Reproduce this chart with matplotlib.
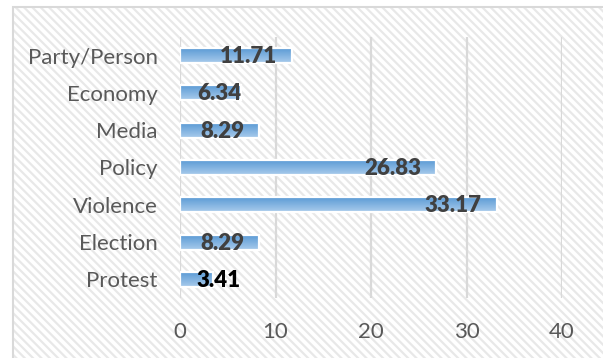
import numpy as np
import matplotlib
matplotlib.use("Agg")
import matplotlib.pyplot as plt
from matplotlib.colors import LinearSegmentedColormap
from matplotlib.patches import Rectangle

# données (de bas en haut)
categories = ['Protest', 'Election', 'Violence', 'Policy', 'Media', 'Economy', 'Party/Person']
valeurs = [3.41, 8.29, 33.17, 26.83, 8.29, 6.34, 11.71]
couleurs_labels = ['#000000', '#404040', '#404040', '#404040', '#404040', '#404040', '#404040']
xticks = [0, 10, 20, 30, 40]

plt.rcParams['font.family'] = ['Lato', 'DejaVu Sans']
plt.rcParams['hatch.linewidth'] = 1.6

fig = plt.figure(figsize=(6.03, 3.58), dpi=100)

# fond hachuré + cadre
fond = Rectangle((13 / 603, -0.05), 1.1, 1 - 7.5 / 358 + 0.05, transform=fig.transFigure,
                 facecolor='white', edgecolor='#e8e8e8', hatch='\\\\\\\\', linewidth=0, zorder=-2)
fig.patches.append(fond)
cadre = Rectangle((12.5 / 603, -0.05), 1.1, 1 - 7 / 358 + 0.05, transform=fig.transFigure,
                  facecolor='none', edgecolor='#d9d9d9', linewidth=1.5, zorder=-1)
fig.patches.append(cadre)

ax = fig.add_axes([180 / 603, 1 - 298 / 358, (562 - 180) / 603, (298 - 37) / 358])
ax.set_facecolor('none')

y = np.arange(len(categories))
barres = ax.barh(y, valeurs, height=0.40, color='#5b9bd5', edgecolor='none', zorder=2)

# dégradé bleu dans chaque barre
cmap = LinearSegmentedColormap.from_list('bleu', ['#a9cbec', '#5b9bd5'])
grad = np.linspace(0, 1, 64).reshape(-1, 1)
for b in barres:
    x0, y0 = b.get_x(), b.get_y()
    im = ax.imshow(grad, extent=[x0, x0 + b.get_width(), y0, y0 + b.get_height()],
                   origin='lower', aspect='auto', cmap=cmap, zorder=2.5)
    im.set_clip_path(b)
ax.barh(y, valeurs, height=0.40, color='none', edgecolor='white', linewidth=1.6, zorder=3)

ax.set_xlim(0, 40)
ax.set_ylim(-0.5, len(categories) - 0.5)
ax.set_xticks(xticks)
ax.set_yticks(y)
ax.set_yticklabels(categories)
ax.tick_params(axis='both', length=0, labelsize=16, labelcolor='#595959')
ax.tick_params(axis='x', pad=17)
ax.tick_params(axis='y', pad=16)
for s in ax.spines.values():
    s.set_visible(False)
ax.grid(axis='x', color='#d9d9d9', linewidth=1.6)
ax.set_axisbelow(True)

# étiquettes de valeurs
fig.canvas.draw()
rend = fig.canvas.get_renderer()
x_min_px = ax.transData.transform((0, 0))[0] + 17
for yi, v, c in zip(y, valeurs, couleurs_labels):
    t = ax.annotate(f'{v:.2f}', (v, yi), xytext=(-15, -1), textcoords='offset pixels',
                    ha='right', va='center', fontsize=16, fontweight='heavy', color=c, zorder=4)
    bb = t.get_window_extent(rend)
    if bb.x0 < x_min_px:
        t.remove()
        ax.annotate(f'{v:.2f}', (0, yi), xytext=(17, -1), textcoords='offset pixels',
                    ha='left', va='center', fontsize=16, fontweight='heavy', color=c, zorder=4)

plt.savefig('out.png', dpi=100)
plt.close()
